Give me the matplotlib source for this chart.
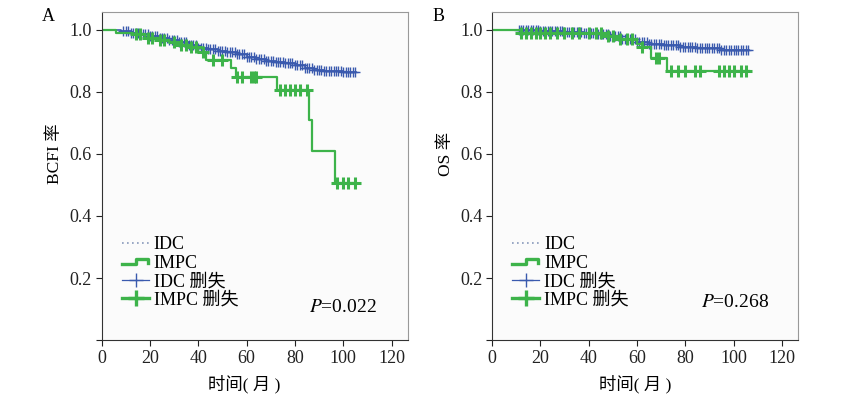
import numpy as np
import matplotlib.pyplot as plt
from matplotlib.lines import Line2D
from matplotlib.legend_handler import HandlerBase

plt.rcParams['font.family'] = ['Liberation Serif', 'Noto Sans CJK SC']
plt.rcParams['mathtext.fontset'] = 'stix'

BLUE = '#3a5aae'
GREEN = '#3db34a'

# ---- panel A: BCFI ----
idc_a_t = [0, 8, 12, 16, 20, 24, 28, 32, 36, 40, 44, 48, 52, 56, 60, 64, 68, 72, 76, 80, 84, 88, 92, 96, 100]
idc_a_s = [1.0, 0.997, 0.99, 0.985, 0.98, 0.975, 0.968, 0.96, 0.95, 0.943, 0.938, 0.932, 0.927, 0.922,
           0.914, 0.905, 0.9, 0.896, 0.892, 0.888, 0.878, 0.872, 0.868, 0.866, 0.865]
idc_a_end = 105.5
idc_a_cens = [9, 10, 11, 12, 13, 14, 15, 16, 17, 18, 19, 20, 21, 22, 23, 24, 25, 26, 27, 28, 29, 30,
              31, 32, 33, 34, 35, 36, 37, 38, 39, 40, 41, 42, 43, 44, 45, 46, 47, 48, 49, 50, 51, 52,
              53, 54, 55, 56, 57, 58, 59, 60, 61, 62, 63, 64, 65, 66, 67, 68, 69, 70, 71, 72, 73, 74,
              75, 76, 77, 78, 79, 80, 81, 82, 83, 84, 85, 86, 87, 88, 89, 90, 91, 92, 93, 94, 95, 96,
              97, 98, 99, 100, 101, 102, 103, 104, 105]

impc_a_t = [0, 6, 13, 18, 24, 28, 32, 36, 40, 43, 53.5, 55.5, 72.5, 86, 87, 96.5]
impc_a_s = [1.0, 0.99, 0.985, 0.975, 0.968, 0.96, 0.952, 0.945, 0.93, 0.903, 0.877, 0.849, 0.806,
            0.71, 0.61, 0.505]
impc_a_end = 105.5
impc_a_cens = [14, 16, 19, 21, 24, 26, 30, 33, 35, 37, 39, 42, 46, 50, 56, 58, 62, 63, 64,
               74, 76, 78, 80, 82, 85, 97.5, 100, 102, 105]

# ---- panel B: OS ----
idc_b_t = [0, 11, 20, 30, 38, 44, 49, 54, 60, 65, 71, 78, 85, 95]
idc_b_s = [1.0, 0.998, 0.996, 0.994, 0.99, 0.985, 0.98, 0.97, 0.96, 0.955, 0.95, 0.945, 0.94, 0.935]
idc_b_end = 106.5
idc_b_cens = [11, 12, 13, 14, 15, 16, 17, 18, 19, 20, 21, 22, 23, 24, 25, 26, 27, 28, 29, 30, 31,
              32, 33, 34, 35, 36, 37, 38, 39, 40, 41, 42, 43, 44, 45, 46, 47, 48, 49, 50, 51, 52,
              53, 54, 55, 56, 57, 58, 59, 60, 61, 62, 63, 64, 65, 66, 67, 68, 69, 70, 71, 72, 73,
              74, 75, 76, 77, 78, 79, 80, 81, 82, 83, 84, 85, 86, 87, 88, 89, 90, 91, 92, 93, 94,
              95, 96, 97, 98, 99, 100, 101, 102, 103, 104, 105, 106]

impc_b_t = [0, 12, 48, 52, 60, 62, 66, 72.3]
impc_b_s = [1.0, 0.99, 0.98, 0.97, 0.955, 0.945, 0.909, 0.866]
impc_b_end = 106.5
impc_b_cens = [12, 14, 16, 18, 20, 22, 24, 27, 30, 33, 36, 40, 43, 45, 48, 50, 53, 56, 58, 62,
               68, 69, 74, 77, 80, 84, 86, 94, 96, 98, 100, 103, 105]

x_ticks = [0, 20, 40, 60, 80, 100, 120]
y_ticks = [0.0, 0.2, 0.4, 0.6, 0.8, 1.0]
y_ticklabels = ['', '0.2', '0.4', '0.6', '0.8', '1.0']
legend_labels = ['IDC', 'IMPC', 'IDC 删失', 'IMPC 删失']


class StepHandler(HandlerBase):
    def create_artists(self, legend, orig_handle, xdescent, ydescent, width, height, fontsize, trans):
        y0 = height * 0.25 - ydescent
        y1 = height * 0.7 - ydescent
        xs = [-xdescent, -xdescent + width * 0.5, -xdescent + width * 0.5,
              -xdescent + width * 0.95, -xdescent + width * 0.95]
        ys = [y0, y0, y1, y1, y1 - height * 0.3]
        return [Line2D(xs, ys, color=GREEN, lw=2.4, transform=trans)]


def step_val(times, vals, t):
    i = np.searchsorted(times, t, side='right') - 1
    return np.asarray(vals)[i]


def km(ax, times, vals, end, cens, color, lw, ms, mew):
    tt = list(times) + [end]
    ss = list(vals) + [vals[-1]]
    ax.step(tt, ss, where='post', color=color, lw=lw)
    ax.plot(cens, step_val(np.asarray(times), vals, np.asarray(cens)), ls='none', marker='+',
            color=color, ms=ms, mew=mew)


def panel(ax, letter, ylabel, idc, impc, ptext, ppos):
    ax.set_facecolor('#fbfbfb')
    km(ax, *idc, BLUE, 1.2, 7, 1.0)
    km(ax, *impc, GREEN, 1.6, 8, 2.2)
    ax.set_xlim(0, 126.7)
    ax.set_ylim(0, 1.058)
    ax.set_xticks(x_ticks)
    ax.set_yticks(y_ticks)
    ax.set_yticklabels(y_ticklabels)
    ax.tick_params(direction='out', length=4, labelsize=13, colors='#222222', pad=3)
    for s in ['left', 'bottom']:
        ax.spines[s].set_color('#333333')
    for s in ['top', 'right']:
        ax.spines[s].set_color('#999999')
    ax.set_xlabel('时间( 月 )', fontsize=12.5)
    ax.xaxis.set_label_coords(0.467, -0.105)
    ax.set_ylabel(ylabel, fontsize=12.5)
    ax.yaxis.set_label_coords(-0.125, 0.567)
    ax.text(-0.175, 0.985, letter, transform=ax.transAxes, fontsize=13, ha='center', va='center')
    ax.text(ppos[0], ppos[1], ptext, fontsize=14, ha='left', va='center')

    step_proxy = Line2D([], [], color=GREEN)
    handles = [
        Line2D([], [], color='#8899bb', lw=1.2, ls=(0, (1, 2))),
        step_proxy,
        Line2D([], [], color=BLUE, lw=0.9, marker='+', ms=10, mew=1.0),
        Line2D([], [], color=GREEN, lw=2.4, marker='+', ms=11, mew=2.4),
    ]
    ax.legend(handles, legend_labels, loc='upper left', bbox_to_anchor=(0.025, 0.355),
              frameon=False, fontsize=13, handlelength=1.5, handletextpad=0.25,
              labelspacing=0.08, borderpad=0.2,
              handler_map={step_proxy: StepHandler()})


fig = plt.figure(figsize=(8.46, 3.95), dpi=100)
axA = fig.add_axes([0.1202, 0.139, 0.3617, 0.831])
axB = fig.add_axes([0.5816, 0.139, 0.3617, 0.831])

panel(axA, 'A', 'BCFI 率',
      (idc_a_t, idc_a_s, idc_a_end, idc_a_cens),
      (impc_a_t, impc_a_s, impc_a_end, impc_a_cens),
      '$P$=0.022', (86, 0.106))
panel(axB, 'B', 'OS 率',
      (idc_b_t, idc_b_s, idc_b_end, idc_b_cens),
      (impc_b_t, impc_b_s, impc_b_end, impc_b_cens),
      '$P$=0.268', (86.5, 0.12))

fig.savefig('out.png', dpi=100)
